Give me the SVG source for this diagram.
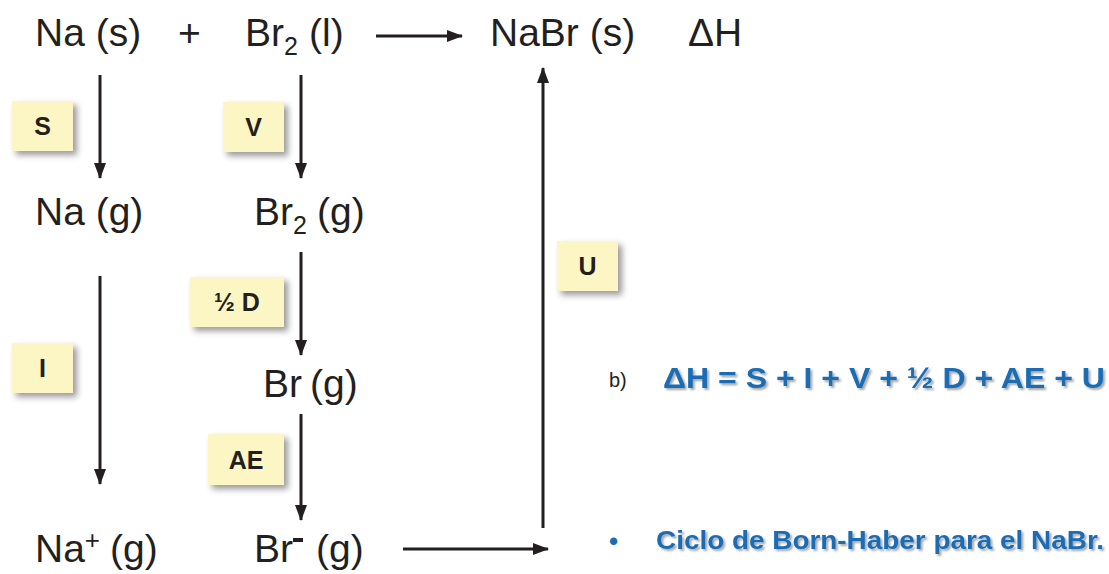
<svg xmlns="http://www.w3.org/2000/svg" width="1109" height="574" viewBox="0 0 1109 574">
<style>
.t{font-family:"Liberation Sans",Arial,sans-serif;font-size:39px;fill:#231f20}
.sub{font-size:25px}
.box{fill:#fbf6c3}
.bl{font-family:"Liberation Sans",Arial,sans-serif;font-size:25px;font-weight:bold;fill:#231f20;text-anchor:middle}
.ln{stroke:#231f20;stroke-width:3;fill:none}
.blue{font-family:"Liberation Sans",Arial,sans-serif;font-weight:bold;fill:#1a6cb4}
</style>
<defs>
<marker id="ah" viewBox="0 0 16 12" refX="15" refY="6" markerWidth="16" markerHeight="12" markerUnits="userSpaceOnUse" orient="auto">
<path d="M0,0 L16,6 L0,12 Z" fill="#231f20"/>
</marker>
<filter id="sh" x="-30%" y="-30%" width="160%" height="160%">
<feGaussianBlur in="SourceAlpha" stdDeviation="3"/>
<feOffset dx="4" dy="4" result="b"/>
<feFlood flood-color="#000" flood-opacity="0.4"/>
<feComposite in2="b" operator="in"/>
<feMerge><feMergeNode/><feMergeNode in="SourceGraphic"/></feMerge>
</filter>
<filter id="tsh" x="-5%" y="-30%" width="110%" height="160%">
<feGaussianBlur in="SourceAlpha" stdDeviation="1.2"/>
<feOffset dx="2" dy="2" result="b"/>
<feFlood flood-color="#000" flood-opacity="0.35"/>
<feComposite in2="b" operator="in"/>
<feMerge><feMergeNode/><feMergeNode in="SourceGraphic"/></feMerge>
</filter>
</defs>

<g id="connectors">
<line class="ln" x1="376" y1="36" x2="462" y2="36" marker-end="url(#ah)"/>
<line class="ln" x1="100" y1="75" x2="100" y2="178" marker-end="url(#ah)"/>
<line class="ln" x1="301" y1="75" x2="301" y2="178" marker-end="url(#ah)"/>
<line class="ln" x1="100" y1="276" x2="100" y2="484" marker-end="url(#ah)"/>
<line class="ln" x1="301" y1="252" x2="301" y2="355" marker-end="url(#ah)"/>
<line class="ln" x1="301" y1="414" x2="301" y2="520" marker-end="url(#ah)"/>
<line class="ln" x1="403" y1="549" x2="548" y2="549" marker-end="url(#ah)"/>
<line class="ln" x1="543" y1="528" x2="543" y2="68" marker-end="url(#ah)"/>
</g>

<g id="na-s"><text class="t" x="35" y="46">Na (s)</text></g>
<g id="plus"><text class="t" x="178" y="46">+</text></g>
<g id="br2-l"><text class="t" x="245" y="46">Br<tspan class="sub" dy="9">2</tspan><tspan dy="-9" x="309">(l)</tspan></text></g>
<g id="nabr-s"><text class="t" x="490" y="46">NaBr (s)</text></g>
<g id="dh"><text class="t" x="688" y="46">ΔH</text></g>

<g id="na-g"><text class="t" x="35" y="225">Na (g)</text></g>
<g id="br2-g"><text class="t" x="254" y="225">Br<tspan class="sub" dy="9">2</tspan><tspan dy="-9" x="317">(g)</tspan></text></g>
<g id="br-g"><text class="t" x="263" y="397">Br<tspan x="310">(g)</tspan></text></g>
<g id="na-plus-g"><text class="t" x="35" y="562">Na<tspan font-size="26" dy="-13">+</tspan><tspan dy="13" x="110">(g)</tspan></text></g>
<g id="br-minus-g"><text class="t" x="254" y="562">Br</text><rect x="293" y="538" width="10" height="4" fill="#231f20"/><text class="t" x="316" y="562">(g)</text></g>

<g id="box-s"><rect class="box" x="12" y="101" width="61" height="50" filter="url(#sh)"/><text class="bl" x="42.5" y="135">S</text></g>
<g id="box-v"><rect class="box" x="223" y="102" width="61" height="50" filter="url(#sh)"/><text class="bl" x="253.5" y="136">V</text></g>
<g id="box-i"><rect class="box" x="12" y="343" width="61" height="50" filter="url(#sh)"/><text class="bl" x="42.5" y="377">I</text></g>
<g id="box-d"><rect class="box" x="190" y="277" width="94" height="50" filter="url(#sh)"/><text class="bl" x="237" y="311">½ D</text></g>
<g id="box-ae"><rect class="box" x="208" y="434" width="76" height="51" filter="url(#sh)"/><text class="bl" x="246" y="469">AE</text></g>
<g id="box-u"><rect class="box" x="557" y="241" width="61" height="50" filter="url(#sh)"/><text class="bl" x="587.5" y="275">U</text></g>

<g id="formula">
<text x="609" y="387" font-family="Liberation Sans, Arial, sans-serif" font-size="20" fill="#231f20">b)</text>
<text class="blue" x="663" y="388" font-size="30" textLength="442" lengthAdjust="spacingAndGlyphs" filter="url(#tsh)">ΔH = S + I + V + ½ D + AE + U</text>
</g>
<g id="caption">
<text class="blue" x="609" y="550" font-size="26">•</text>
<text class="blue" x="656" y="549" font-size="25" textLength="448" lengthAdjust="spacingAndGlyphs" filter="url(#tsh)">Ciclo de Born-Haber para el NaBr.</text>
</g>
</svg>
